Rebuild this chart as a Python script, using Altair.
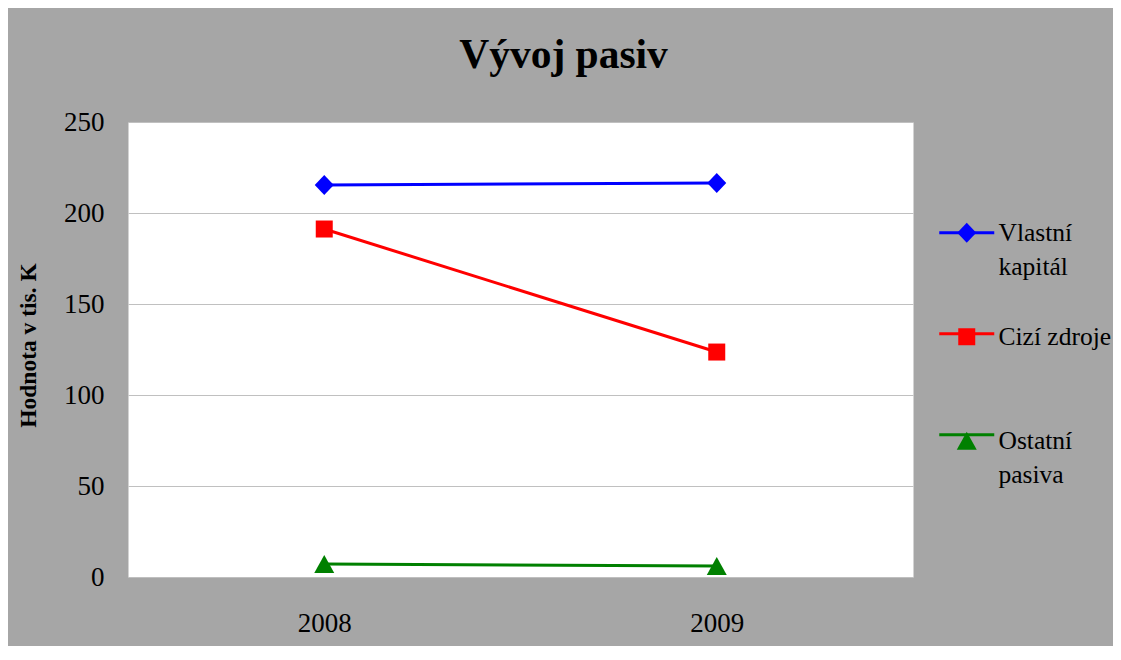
import altair as alt
import pandas as pd

years = ["2008", "2009"]
series = ["Vlastní kapitál", "Cizí zdroje", "Ostatní pasiva"]
vlastni_kapital = [215.4, 216.5]
cizi_zdroje = [191.2, 123.6]
ostatni_pasiva = [7.1, 6.0]
y_ticks = [0, 50, 100, 150, 200, 250]

colors = ["#0000FF", "#FF0000", "#008000"]
marker_shapes = [
    "M-0.95,0L0,-1L0.95,0L0,1Z",
    "M-0.85,-0.85H0.85V0.85H-0.85Z",
    "M0,-0.9L1,0.9H-1Z",
]
line_shape = "M-2.75,0H2.75"

rows = []
for name, vals in zip(series, [vlastni_kapital, cizi_zdroje, ostatni_pasiva]):
    for yr, v in zip(years, vals):
        rows.append({"Rok": yr, "Rada": name, "Hodnota": v})
df = pd.DataFrame(rows)

FONT = "Liberation Serif"

x_enc = alt.X(
    "Rok:N",
    sort=years,
    scale=alt.Scale(type="point", padding=0.5),
    axis=alt.Axis(
        title=None, labelAngle=0, labelFont=FONT, labelFontSize=27,
        labelColor="black", labelPadding=33, ticks=False,
        domainColor="#bfbfbf", grid=False,
    ),
)
y_enc = alt.Y(
    "Hodnota:Q",
    scale=alt.Scale(domain=[0, 250], nice=False),
    axis=alt.Axis(
        values=y_ticks, title="Hodnota v tis. K", titleFont=FONT,
        titleFontSize=23.5, titleFontWeight="bold", titleColor="black",
        titleAngle=270, titleX=-100, titleY=223, titleAlign="center",
        titleBaseline="middle",
        labelFont=FONT, labelFontSize=27, labelColor="black",
        labelPadding=24, ticks=False, domain=False,
        grid=True, gridColor="#c0c0c0", gridWidth=1,
    ),
)

LEGEND_X = 826
LEGEND_Y = 98
label_expr = "datum.label == 'Cizí zdroje' ? datum.label : split(datum.label, ' ')"
blank_expr = "datum.label == 'Cizí zdroje' ? ' ' : [' ', ' ']"


def make_legend(expr):
    return alt.Legend(
        title=None, orient="none", legendX=LEGEND_X, legendY=LEGEND_Y,
        labelFont=FONT, labelFontSize=25.5, labelColor="black",
        labelExpr=expr,
        labelLimit=300, labelOffset=19, labelBaseline="middle",
        symbolSize=400, symbolStrokeWidth=3, symbolOpacity=1,
        rowPadding=40, gridAlign="all", padding=0,
    )


lines = alt.Chart(df).mark_line(strokeWidth=3).encode(
    x=x_enc, y=y_enc,
    color=alt.Color("Rada:N", scale=alt.Scale(domain=series, range=colors), legend=None),
    detail="Rada:N",
)

legend_line_layer = alt.Chart(df).mark_point(
    filled=False, opacity=0, size=400, strokeWidth=3
).encode(
    x=x_enc, y=y_enc,
    color=alt.Color("Rada:N", scale=alt.Scale(domain=series, range=colors),
                    legend=make_legend(blank_expr)),
    shape=alt.Shape("Rada:N", scale=alt.Scale(domain=series, range=[line_shape] * 3),
                    legend=make_legend(blank_expr)),
)

points = alt.Chart(df).mark_point(filled=True, opacity=1, size=400).encode(
    x=x_enc, y=y_enc,
    color=alt.Color("Rada:N", scale=alt.Scale(domain=series, range=colors),
                    legend=make_legend(label_expr)),
    shape=alt.Shape("Rada:N", scale=alt.Scale(domain=series, range=marker_shapes),
                    legend=make_legend(label_expr)),
)

chart = alt.layer(lines, legend_line_layer, points).resolve_scale(
    color="independent", shape="independent"
).resolve_legend(
    color="independent", shape="independent"
).properties(
    width=785,
    height=455,
    title=alt.TitleParams(
        "Vývoj pasiv", font=FONT, fontSize=41.5, fontWeight="bold",
        color="black", anchor="middle", frame="group", dx=43, offset=32,
    ),
    background="#a6a6a6",
    autosize=alt.AutoSizeParams(type="none"),
    padding={"left": 120, "top": 114, "right": 200, "bottom": 69},
).configure(
    style={"guide-label": {"lineHeight": 34}},
    view=alt.ViewConfig(fill="white", stroke="transparent"),
)

chart.save("out.html", embed_options={"renderer": "svg", "actions": False})
